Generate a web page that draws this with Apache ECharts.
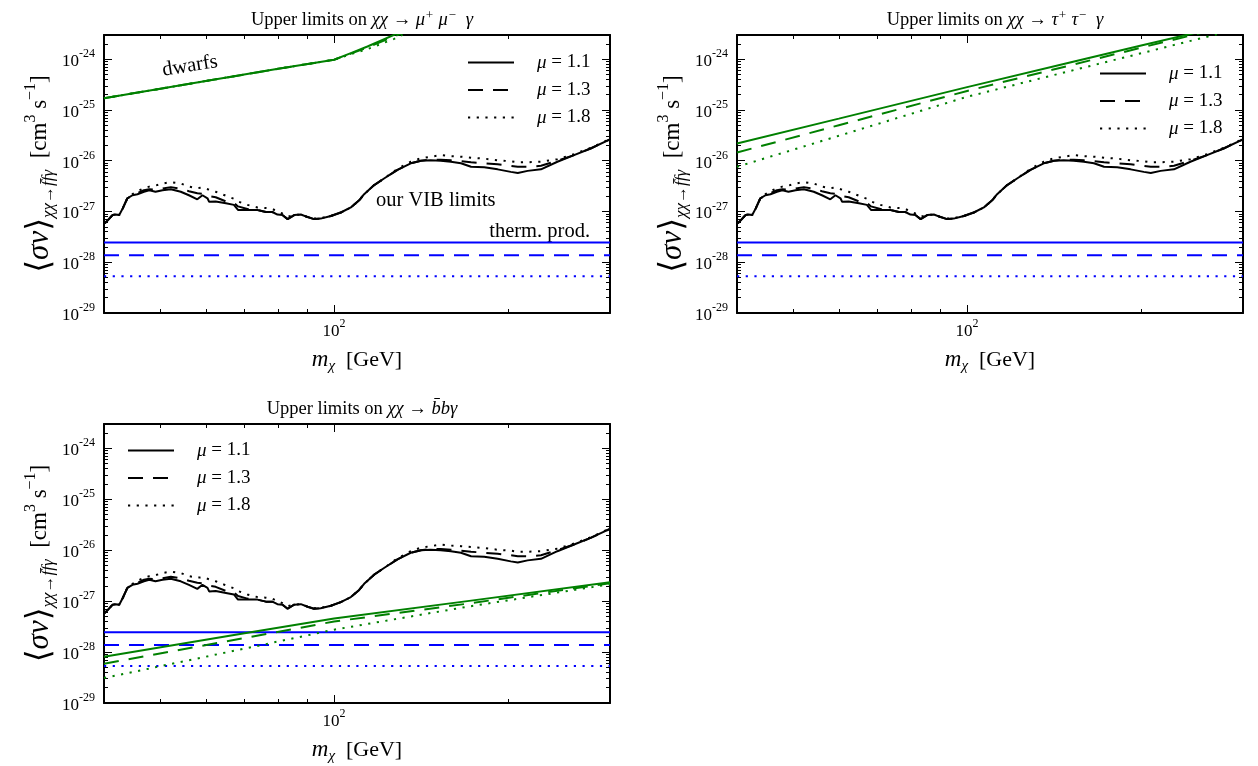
<!DOCTYPE html>
<html>
<head>
<meta charset="utf-8">
<script src="https://cdn.jsdelivr.net/npm/echarts@6/dist/echarts.min.js"></script>
<style>
  html, body { margin: 0; padding: 0; background: #fff; }
  #chart { width: 1258px; height: 766px; }
</style>
</head>
<body>
<div id="chart"></div>
<script>
// ---- data -------------------------------------------------------------
// dark matter mass grid (GeV) of the VIB upper limits
const MASS = [40, 40.4, 41.4, 41.9, 42.5, 43.1, 43.9, 44.8, 45.7, 46.9, 47.9, 49.1, 50.5, 52.2, 54.3,
  56.1, 58.0, 59.2, 60.4, 60.8, 62.4, 65.0, 67.1, 68.2, 70.8, 73.7, 76.2, 78.2, 79.8, 81.4, 83.1,
  85.3, 87.6, 90.0, 92.3, 94.8, 98.7, 102.7, 106.9, 110.5, 112.7, 117.3, 122, 128.7, 135.7, 141.3,
  146.9, 152.9, 159.2, 165.7, 172.5, 181.8, 191.8, 202.1, 207.8, 216.1, 227.9, 243.3, 260, 277.7, 300];

// our VIB limits, <sigma v> in cm^3 s^-1, for the three mass ratios
const VIB_MU11 = [5.75e-28, 6.31e-28, 8.51e-28, 8.71e-28, 8.51e-28, 1.15e-27, 1.82e-27, 2.09e-27,
  2.19e-27, 2.45e-27, 2.63e-27, 2.45e-27, 2.63e-27, 2.75e-27, 2.45e-27, 2.09e-27, 1.74e-27, 2.09e-27,
  1.82e-27, 1.55e-27, 1.58e-27, 1.45e-27, 1.35e-27, 1.07e-27, 1.07e-27, 1.07e-27, 9.77e-28, 9.77e-28,
  8.71e-28, 8.51e-28, 7.08e-28, 8.51e-28, 8.71e-28, 7.76e-28, 7.08e-28, 7.24e-28, 8.13e-28, 9.55e-28,
  1.20e-27, 1.66e-27, 2.19e-27, 3.31e-27, 4.47e-27, 6.61e-27, 8.91e-27, 1.00e-26, 1.02e-26, 1.00e-26,
  9.55e-27, 8.91e-27, 7.59e-27, 7.41e-27, 6.76e-27, 6.03e-27, 5.75e-27, 6.31e-27, 6.76e-27, 9.55e-27,
  1.29e-26, 1.74e-26, 2.63e-26];
const VIB_MU13 = [5.75e-28, 6.31e-28, 8.51e-28, 8.71e-28, 8.51e-28, 1.15e-27, 1.82e-27, 2.09e-27,
  2.29e-27, 2.63e-27, 2.75e-27, 2.69e-27, 2.82e-27, 3.02e-27, 2.82e-27, 2.51e-27, 2.29e-27, 2.24e-27,
  2.04e-27, 1.95e-27, 1.91e-27, 1.58e-27, 1.48e-27, 1.26e-27, 1.12e-27, 1.07e-27, 9.77e-28, 9.77e-28,
  8.71e-28, 8.51e-28, 7.08e-28, 8.51e-28, 8.71e-28, 7.76e-28, 7.08e-28, 7.24e-28, 8.13e-28, 9.55e-28,
  1.20e-27, 1.66e-27, 2.19e-27, 3.31e-27, 4.47e-27, 6.61e-27, 8.91e-27, 1.00e-26, 1.05e-26, 1.05e-26,
  1.02e-26, 9.77e-27, 9.33e-27, 8.91e-27, 8.51e-27, 7.94e-27, 7.59e-27, 7.59e-27, 7.94e-27, 1.00e-26,
  1.29e-26, 1.74e-26, 2.63e-26];
const VIB_MU18 = [5.75e-28, 6.31e-28, 8.51e-28, 8.71e-28, 8.51e-28, 1.15e-27, 1.82e-27, 2.19e-27,
  2.51e-27, 2.88e-27, 3.09e-27, 3.24e-27, 3.55e-27, 3.80e-27, 3.55e-27, 3.09e-27, 2.88e-27, 2.95e-27,
  2.75e-27, 2.69e-27, 2.45e-27, 2.04e-27, 1.78e-27, 1.58e-27, 1.35e-27, 1.20e-27, 1.17e-27, 1.12e-27,
  1.00e-27, 9.12e-28, 7.94e-28, 8.51e-28, 8.71e-28, 7.76e-28, 7.24e-28, 7.41e-28, 8.13e-28, 9.55e-28,
  1.20e-27, 1.66e-27, 2.19e-27, 3.31e-27, 4.47e-27, 6.92e-27, 9.55e-27, 1.12e-26, 1.20e-26, 1.29e-26,
  1.23e-26, 1.20e-26, 1.15e-26, 1.10e-26, 1.02e-26, 9.77e-27, 9.33e-27, 9.33e-27, 9.55e-27, 1.07e-26,
  1.35e-26, 1.78e-26, 2.69e-26];

// limits from dwarf galaxies, chi chi -> mu+ mu- gamma
const DWARF_MASS = [40, 60, 80, 100, 106.9, 114.2, 127, 131.4];
const DWARF_MU11 = [1.70e-25, 3.72e-25, 6.46e-25, 9.77e-25, 1.32e-24, 1.78e-24, 3.02e-24, 3.80e-24];
const DWARF_MU13 = [1.70e-25, 3.72e-25, 6.46e-25, 9.77e-25, 1.29e-24, 1.70e-24, 2.82e-24, 3.30e-24];
const DWARF_MU18 = [1.70e-25, 3.72e-25, 6.46e-25, 9.77e-25, 1.26e-24, 1.58e-24, 2.51e-24, 3.02e-24];

// chi chi -> tau+ tau- gamma
const TAU_MASS = [40, 60, 100, 150, 200, 300];
const TAU_MU11 = [2.19e-26, 6.76e-26, 2.82e-25, 8.51e-25, 1.86e-24, 5.50e-24];
const TAU_MU13 = [1.45e-26, 5.00e-26, 2.37e-25, 7.46e-25, 1.69e-24, 5.25e-24];
const TAU_MU18 = [7.59e-27, 3.10e-26, 1.82e-25, 5.79e-25, 1.31e-24, 4.17e-24];

// chi chi -> b-bar b gamma
const BB_MASS = [40, 70, 100, 170, 300];
const BB_MU11 = [8.13e-29, 2.33e-28, 4.57e-28, 1.00e-27, 2.34e-27];
const BB_MU13 = [5.89e-29, 1.89e-28, 3.98e-28, 8.91e-28, 2.24e-27];
const BB_MU18 = [3.09e-29, 1.17e-28, 2.75e-28, 7.76e-28, 2.14e-27];

// thermal production cross section for mu = 1.1, 1.3, 1.8
const THERMAL = [2.45e-28, 1.38e-28, 5.3e-29];

const MU_VALUES = ['1.1', '1.3', '1.8'];

// axis ranges and ticks
const X_MIN = 40, X_MAX = 300;
const X_MAJOR = [100];
const X_MINOR = [50, 60, 70, 80, 90, 200];
const Y_MIN = 1e-29, Y_MAX = 3e-24;
// y ticks are laid out on a decade-exponent axis that overlays the log axis
const Y_EXP_MAJOR = [-29, -28, -27, -26, -25, -24];
const Y_EXP_MIN = Math.log10(Y_MIN), Y_EXP_MAX = Math.log10(Y_MAX);
const Y_EXP_MINOR = [];
Y_EXP_MAJOR.forEach(e => {
  for (let k = 2; k <= 9; k++) {
    const t = e + Math.log10(k);
    if (t <= Y_EXP_MAX + 1e-9) Y_EXP_MINOR.push(t);
  }
});

// ---- styling ----------------------------------------------------------
const FONT = "'Liberation Serif', 'DejaVu Serif', serif";
const BLACK = '#000000', GREEN = '#008000', BLUE = '#0000ff';
const DASHES = ['solid', [15, 10], [2.2, 6.5]];

const GRIDS = [
  { left: 104, top: 35, width: 506, height: 278 },
  { left: 737, top: 35, width: 506, height: 278 },
  { left: 104, top: 424, width: 506, height: 279 }
];

const YNAME_RICH = {
  r:   { fontFamily: FONT, fontSize: 23, color: BLACK, lineHeight: 34, verticalAlign: 'middle' },
  big: { fontFamily: FONT, fontSize: 33, color: BLACK, lineHeight: 34, verticalAlign: 'middle' },
  bi:  { fontFamily: FONT, fontSize: 31, fontStyle: 'italic', color: BLACK, lineHeight: 34, verticalAlign: 'middle' },
  sub: { fontFamily: FONT, fontSize: 17, fontStyle: 'italic', color: BLACK, lineHeight: 17, verticalAlign: 'bottom' },
  sup: { fontFamily: FONT, fontSize: 16, color: BLACK, lineHeight: 16, verticalAlign: 'top' }
};

const XNAME_RICH = {
  r:   { fontFamily: FONT, fontSize: 22, color: BLACK, lineHeight: 28, verticalAlign: 'middle' },
  i:   { fontFamily: FONT, fontSize: 23, fontStyle: 'italic', color: BLACK, lineHeight: 28, verticalAlign: 'middle' },
  sub: { fontFamily: FONT, fontSize: 15, fontStyle: 'italic', color: BLACK, lineHeight: 14, verticalAlign: 'bottom' }
};

const TICK_RICH = {
  b: { fontFamily: FONT, fontSize: 17, color: BLACK, lineHeight: 22, verticalAlign: 'bottom' },
  e: { fontFamily: FONT, fontSize: 12, color: BLACK, lineHeight: 12, verticalAlign: 'top' }
};

const TITLE_RICH = {
  r:   { fontFamily: FONT, fontSize: 18.5, fontWeight: 'normal', color: BLACK, lineHeight: 22, verticalAlign: 'middle' },
  i:   { fontFamily: FONT, fontSize: 18.5, fontWeight: 'normal', fontStyle: 'italic', color: BLACK, lineHeight: 22, verticalAlign: 'middle' },
  sup: { fontFamily: FONT, fontSize: 13, fontWeight: 'normal', fontStyle: 'italic', color: BLACK, lineHeight: 12, verticalAlign: 'top' }
};

const PANELS = [
  {
    title: '{r|Upper limits on }{i|χχ}{r| → }{i|μ}{sup|+}{i| μ}{sup|−}{r|  }{i|γ}',
    mass: DWARF_MASS, green: [DWARF_MU11, DWARF_MU13, DWARF_MU18],
    legend: { left: 467, top: 53 }
  },
  {
    title: '{r|Upper limits on }{i|χχ}{r| → }{i|τ}{sup|+}{i| τ}{sup|−}{r|  }{i|γ}',
    mass: TAU_MASS, green: [TAU_MU11, TAU_MU13, TAU_MU18],
    legend: { left: 1099, top: 64 }
  },
  {
    title: '{r|Upper limits on }{i|χχ}{r| → }{i|b̄bγ}',
    mass: BB_MASS, green: [BB_MU11, BB_MU13, BB_MU18],
    legend: { left: 127, top: 441 }
  }
];

const VIB = [VIB_MU11, VIB_MU13, VIB_MU18];
const MU_NAMES = MU_VALUES.map(v => 'μ = ' + v);

// ---- axes -------------------------------------------------------------
const tickLine = { color: BLACK, width: 1 };
const frameLine = { show: true, onZero: false, lineStyle: { color: BLACK, width: 2 } };
const noLine = { show: false, onZero: false };
const X_PER_GRID = 4, Y_PER_GRID = 5;

function xAxesFor(g) {
  const base = { gridIndex: g, type: 'log', logBase: 10, min: X_MIN, max: X_MAX,
    splitLine: { show: false }, axisPointer: { show: false }, silent: true };
  return [
    Object.assign({}, base, {
      position: 'bottom', axisLine: frameLine,
      axisTick: { show: true, inside: true, length: 8, customValues: X_MAJOR, lineStyle: tickLine },
      axisLabel: {
        show: true, customValues: X_MAJOR, margin: 5,
        formatter: v => '{b|10}{e|' + Math.round(Math.log10(v)) + '}',
        rich: TICK_RICH
      },
      name: '{i|m}{sub|χ}{r|  [GeV]}', nameLocation: 'middle', nameGap: 33,
      nameTextStyle: { rich: XNAME_RICH }
    }),
    Object.assign({}, base, {
      position: 'bottom', axisLine: noLine, axisLabel: { show: false },
      axisTick: { show: true, inside: true, length: 4, customValues: X_MINOR, lineStyle: tickLine }
    }),
    Object.assign({}, base, {
      position: 'top', axisLine: frameLine, axisLabel: { show: false },
      axisTick: { show: true, inside: true, length: 8, customValues: X_MAJOR, lineStyle: tickLine }
    }),
    Object.assign({}, base, {
      position: 'top', axisLine: noLine, axisLabel: { show: false },
      axisTick: { show: true, inside: true, length: 4, customValues: X_MINOR, lineStyle: tickLine }
    })
  ];
}

function yAxesFor(g) {
  const hidden = { show: false };
  const expBase = { gridIndex: g, type: 'value', min: Y_EXP_MIN, max: Y_EXP_MAX,
    splitLine: hidden, axisPointer: hidden, silent: true };
  return [
    // logarithmic data axis the curves are drawn on
    { gridIndex: g, type: 'log', logBase: 10, min: Y_MIN, max: Y_MAX, position: 'left',
      axisLine: noLine, axisTick: hidden, axisLabel: hidden, splitLine: hidden, axisPointer: hidden },
    Object.assign({}, expBase, {
      position: 'left', axisLine: frameLine,
      axisTick: { show: true, inside: true, length: 8, customValues: Y_EXP_MAJOR, lineStyle: tickLine },
      axisLabel: {
        show: true, customValues: Y_EXP_MAJOR, margin: 9,
        formatter: v => '{b|10}{e|' + Math.round(v) + '}',
        rich: TICK_RICH
      },
      name: '{big|⟨}{bi|σv}{big|⟩}{sub|χχ→f̄fγ}{r|  [cm}{sup|3}{r| s}{sup|−1}{r|]}',
      nameLocation: 'middle', nameRotate: 90, nameGap: 47,
      nameTextStyle: { rich: YNAME_RICH }
    }),
    Object.assign({}, expBase, {
      position: 'left', axisLine: noLine, axisLabel: hidden,
      axisTick: { show: true, inside: true, length: 4, customValues: Y_EXP_MINOR, lineStyle: tickLine }
    }),
    Object.assign({}, expBase, {
      position: 'right', axisLine: frameLine, axisLabel: hidden,
      axisTick: { show: true, inside: true, length: 8, customValues: Y_EXP_MAJOR, lineStyle: tickLine }
    }),
    Object.assign({}, expBase, {
      position: 'right', axisLine: noLine, axisLabel: hidden,
      axisTick: { show: true, inside: true, length: 4, customValues: Y_EXP_MINOR, lineStyle: tickLine }
    })
  ];
}

// ---- series -----------------------------------------------------------
function curve(name, g, xs, ys, color, k, z) {
  return {
    type: 'line', name: name, xAxisIndex: g * X_PER_GRID, yAxisIndex: g * Y_PER_GRID,
    data: xs.map((x, i) => [x, ys[i]]),
    symbol: 'none', silent: true, animation: false, z: z,
    lineStyle: { color: color, width: 2, type: DASHES[k] },
    itemStyle: { color: color }
  };
}

const series = [];
PANELS.forEach((p, g) => {
  THERMAL.forEach((v, k) => series.push(curve('therm. prod. ' + MU_VALUES[k] + ' #' + g, g, [X_MIN, X_MAX], [v, v], BLUE, k, 2)));
  p.green.forEach((vals, k) => series.push(curve('green ' + MU_VALUES[k] + ' #' + g, g, p.mass, vals, GREEN, k, 3)));
  VIB.forEach((vals, k) => series.push(curve(MU_NAMES[k], g, MASS, vals, BLACK, k, 4)));
});

// ---- legends, titles, annotations ------------------------------------
const legends = PANELS.map(p => ({
  data: MU_NAMES, orient: 'vertical', left: p.legend.left, top: p.legend.top,
  padding: 0, itemWidth: 46, itemHeight: 14, itemGap: 8.5, selectedMode: false,
  itemStyle: { opacity: 0 },
  formatter: n => '{i|μ}{r|' + n.slice(1) + '}',
  textStyle: {
    padding: [0, 0, 0, 18],
    rich: {
      r: { fontFamily: FONT, fontSize: 19, color: BLACK, lineHeight: 20 },
      i: { fontFamily: FONT, fontSize: 19, fontStyle: 'italic', color: BLACK, lineHeight: 20 }
    }
  }
}));

const titles = PANELS.map((p, g) => ({
  text: p.title, left: GRIDS[g].left + GRIDS[g].width / 2, top: GRIDS[g].top - 31,
  textAlign: 'center', textStyle: { fontWeight: 'normal', rich: TITLE_RICH }
}));

const annoStyle = { fontFamily: FONT, fontSize: 20.5, fill: BLACK };
const graphic = [
  { type: 'text', x: 190, y: 66, rotation: 0.16, silent: true,
    style: Object.assign({ text: 'dwarfs', align: 'center', verticalAlign: 'middle' }, annoStyle) },
  { type: 'text', x: 376, y: 201, silent: true,
    style: Object.assign({ text: 'our VIB limits', align: 'left', verticalAlign: 'middle' }, annoStyle) },
  { type: 'text', x: 590, y: 232, silent: true,
    style: Object.assign({ text: 'therm. prod.', align: 'right', verticalAlign: 'middle' }, annoStyle) }
];

const chart = echarts.init(document.getElementById('chart'), null, { renderer: 'canvas' });
chart.setOption({
  backgroundColor: '#ffffff',
  animation: false,
  title: titles,
  legend: legends,
  grid: GRIDS,
  xAxis: [0, 1, 2].flatMap(xAxesFor),
  yAxis: [0, 1, 2].flatMap(yAxesFor),
  series: series,
  graphic: graphic
});
</script>
</body>
</html>
